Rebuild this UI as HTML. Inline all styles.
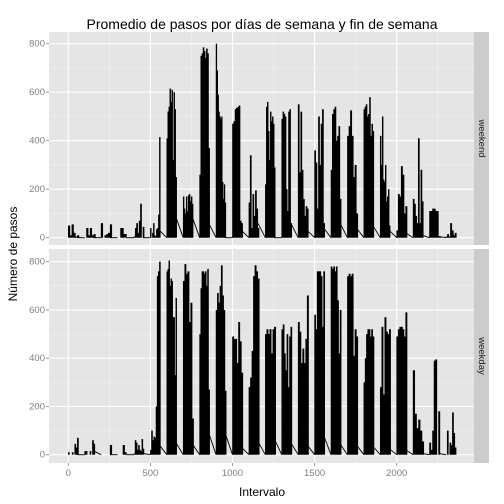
<!DOCTYPE html>
<html><head><meta charset="utf-8"><style>
body{margin:0;background:#fff}
svg{display:block;font-family:"Liberation Sans",sans-serif}
</style></head><body>
<svg id="chart" width="504" height="504" viewBox="0 0 504 504">
<text x="262" y="29" font-size="14" text-anchor="middle" fill="#000">Promedio de pasos por días de semana y fin de semana</text>
<text x="17" y="254" font-size="12" text-anchor="middle" transform="rotate(-90 17 254)">Número de pasos</text>
<text x="262" y="496" font-size="12" text-anchor="middle">Intervalo</text>
<g id="panels"></g>
</svg>
<script>
const xTicks=[0,500,1000,1500,2000];
const xMinor=[250,750,1250,1750,2250];
const yTicks=[0,200,400,600,800];
const yMinor=[100,300,500,700];
const facetNames=["weekend","weekday"];
const weekendPeaks=[
[50,10,55,20,5,10],[0,40,10,40,10,15],[60,0,10,15,20,55],[0,40,15,0],[5,40,60,20,70,140,0,45],
[40,0,20,60,10,5,35,40,95,415],[410,520,540,615,560,610,320,600,530,250],[170,120,100,170,110,175,180,150,170,140],
[260,750,760,785,770,740,780,760,370],[800,690,590,520,500,490,500,230,160,220,145],[470,480,530,535,540,545,70,60],
[145,340,40,180,90,195,120,40],[220,540,560,440,320,520,480,500,470,290],[490,520,510,500,200,110,520,530,60],
[550,270,520,280,160,90,130,120],[360,310,120,500,300,470,530,60],[280,510,530,540,400,420,460,160],
[420,460,525,420,250,300,100],[530,540,550,500,510,580,420,470,440],[420,300,500,240,230,300,150,170,200,50],
[30,180,170,295,260,100,130],[160,140,90,60,410,60,280,150],[110,120,110,5],[5,15,5,60,30,10,20]];
const weekendTrend=[0,0,0,0,0,30,85,85,60,0,30,60,0,60,30,40,60,40,50,30,20,10,5,0];
const weekdayPeaks=[
[10,0,0,10,0,45,30,70],[15,15,0,0,15,0,60,45],[0,0,0,0,0,40],[0,0,0,40,10,0],[5,60,50,20,40,20,15,65,25],
[20,100,60,75,70,200,740,760,800],[760,770,805,700,730,720,570,570,330,650],[720,790,750,760,550,630,150],
[500,690,760,760,750,760,700,770,270],[600,670,630,700,785,660,600,265],[490,480,480,380,550,470,340],
[280,320,430,740,785,760,730],[500,520,500,520,420,520,530],[520,540,420,350,500,280,490,530],
[550,510,380,440,380,480,660],[580,520,760,760,760,740,530,760],[780,770,780,760,780,640,420,600],
[740,750,740,750,410,520,490],[300,400,500,520,520,490,520,490],[280,530,250,570,510,500,520],
[490,520,530,530,520,490,590],[350,170,110,145,100,55],[50,20,100,390,395,0,180],[0,100,0,50,40,175,90,30]];
const weekdayTrend=[0,15,0,0,5,40,50,45,90,90,30,55,65,50,40,80,45,40,35,25,20,5,5,0];

const NS="http://www.w3.org/2000/svg";
const X0=49,X1=474;
const xs=v=>68.3+v*(328.4/2000);
function mk(p,tag,attrs){const e=document.createElementNS(NS,tag);for(const k in attrs)e.setAttribute(k,attrs[k]);p.appendChild(e);return e;}
const panels=[{top:32,bottom:245,y0:237.7,y800:43.7,peaks:weekendPeaks,trend:weekendTrend},
              {top:249,bottom:463,y0:454.7,y800:261.7,peaks:weekdayPeaks,trend:weekdayTrend}];
const root=document.getElementById('panels');
panels.forEach((P,pi)=>{
  const ys=v=>P.y0+(P.y800-P.y0)*v/800;
  const g=mk(root,'g',{});
  
  
  const bg=mk(g,'rect',{x:X0,y:P.top,width:X1-X0,height:P.bottom-P.top,fill:'#E5E5E5'});
  
  
  xMinor.forEach(v=>{const l=mk(g,'line',{x1:xs(v),x2:xs(v),y1:P.top,y2:P.bottom,stroke:'#F2F2F2','stroke-width':0.6});
    });
  yMinor.forEach(v=>{const l=mk(g,'line',{x1:X0,x2:X1,y1:ys(v),y2:ys(v),stroke:'#F2F2F2','stroke-width':0.6});
    });
  xTicks.forEach(v=>{const l=mk(g,'line',{x1:xs(v),x2:xs(v),y1:P.top,y2:P.bottom,stroke:'#fff','stroke-width':1.1});
    });
  yTicks.forEach(v=>{const l=mk(g,'line',{x1:X0,x2:X1,y1:ys(v),y2:ys(v),stroke:'#fff','stroke-width':1.1});
    
    const t=mk(g,'text',{x:45,y:ys(v)+3,'font-size':9.5,'text-anchor':'end',fill:'#7F7F7F'});t.textContent=v;
    
    mk(g,'line',{x1:46,x2:49,y1:ys(v),y2:ys(v),stroke:'#7F7F7F','stroke-width':0.8});});
  // series
  P.peaks.forEach((arr,h)=>{
    const n=arr.length,step=55/(n-1||1);
    arr.forEach((v,i)=>{
      const iv=h*100+i*step;
      const r=mk(g,'rect',{x:xs(iv)-0.3,y:ys(v),width:Math.max(step*0.1642+0.4,0.9),height:ys(0)-ys(v),fill:'#000'});
      
    });
    if(h<23){
      const l=mk(g,'line',{x1:xs(h*100+55),y1:ys(P.trend[h]),x2:xs((h+1)*100),y2:ys(0),stroke:'#000','stroke-width':0.9});
      
    }
  });
  const strip=mk(g,'rect',{x:474,y:P.top,width:15,height:P.bottom-P.top,fill:'#CCCCCC'});
  
  
  const cy=(P.top+P.bottom)/2;
  const st=mk(g,'text',{x:481.5,y:cy,'font-size':9.5,'text-anchor':'middle',transform:`rotate(90 481.5 ${cy})`,'dominant-baseline':'central',fill:'#1a1a1a'});
  st.textContent=facetNames[pi];
  
});
xTicks.forEach(v=>{
  const g=root;
  mk(g,'line',{x1:xs(v),x2:xs(v),y1:463,y2:466,stroke:'#7F7F7F','stroke-width':0.8});
  const t=mk(g,'text',{x:xs(v),y:476,'font-size':9.5,'text-anchor':'middle',fill:'#7F7F7F'});t.textContent=v;
  
});
</script>
</body></html>
